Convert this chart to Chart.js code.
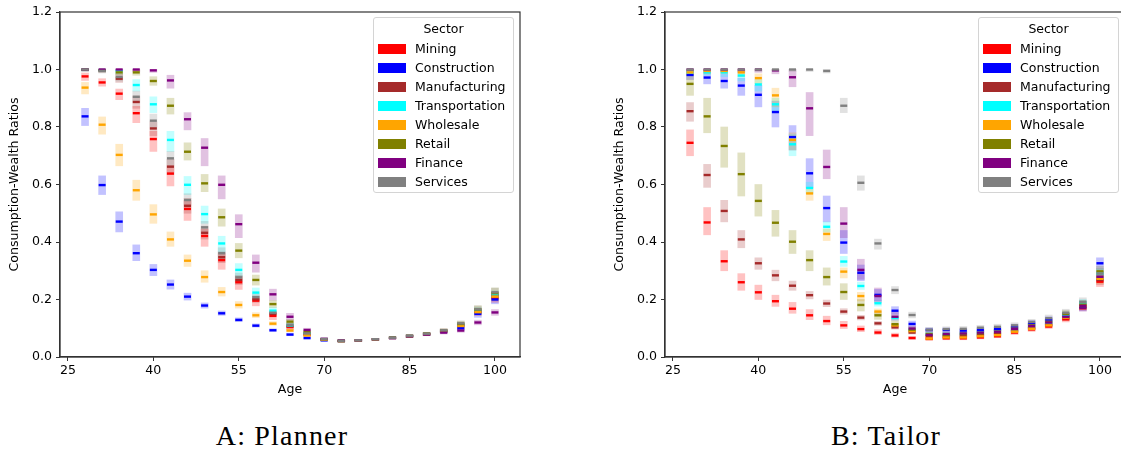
<!DOCTYPE html>
<html>
<head>
<meta charset="utf-8">
<script src="https://cdn.jsdelivr.net/npm/chart.js@4.4.1/dist/chart.umd.min.js"></script>
<style>
  html, body { margin: 0; padding: 0; background: #fff; width: 1121px; height: 452px; overflow: hidden; }
  .panel { position: absolute; top: 0; width: 530px; height: 400px; }
  .panel canvas { display: block; }
  .legend { position: absolute; top: 17px; width: 141px; height: 176px; box-sizing: border-box;
            border: 1px solid #d4d4d4; border-radius: 3px; background: rgba(255,255,255,0.85);
            font-family: 'DejaVu Sans', sans-serif; font-size: 12.5px; color: #000; }
  .legend .ttl { position: absolute; left: 0; right: 0; top: 3px; text-align: center; line-height: 16px; }
  .legend .sw { position: absolute; left: 4px; width: 28px; height: 10px; }
  .legend .lb { position: absolute; left: 41px; line-height: 16px; white-space: nowrap; }
  .caption { position: absolute; top: 422px; width: 300px; text-align: center; line-height: 28px;
             font-family: 'Liberation Serif', serif; font-size: 28px; letter-spacing: 1.2px; color: #000; }
</style>
</head>
<body>
<div class="panel" id="panelA" style="left:0px"><canvas id="chartA" width="530" height="400"></canvas></div>
<div class="panel" id="panelB" style="left:605px"><canvas id="chartB" width="530" height="400"></canvas></div>
<div class="caption" style="left:132px">A: Planner</div>
<div class="caption" style="left:736px">B: Tailor</div>
<script>
// Age grid of the simulated cohorts and axis ticks
const ages = [28, 31, 34, 37, 40, 43, 46, 49, 52, 55, 58, 61, 64, 67, 70, 73, 76, 79, 82, 85, 88, 91, 94, 97, 100];
const ageTicks = [25, 40, 55, 70, 85, 100];
const ratioTicks = [0.0, 0.2, 0.4, 0.6, 0.8, 1.0, 1.2];

const sectors = ['Mining', 'Construction', 'Manufacturing', 'Transportation', 'Wholesale', 'Retail', 'Finance', 'Services'];
const sectorColors = ['#ff0000', '#0000ff', '#a52a2a', '#00ffff', '#ffa500', '#808000', '#800080', '#808080'];

// Planner: median consumption-wealth ratio by sector (rows) and age (columns)
const plannerMedian = [
  [0.976, 0.955, 0.916, 0.848, 0.758, 0.638, 0.515, 0.421, 0.337, 0.260, 0.196, 0.143, 0.104, 0.078, 0.061, 0.056, 0.058, 0.062, 0.067, 0.073, 0.080, 0.091, 0.110, 0.158, 0.205],
  [0.837, 0.598, 0.471, 0.361, 0.303, 0.252, 0.210, 0.179, 0.152, 0.129, 0.109, 0.093, 0.078, 0.066, 0.058, 0.055, 0.057, 0.061, 0.066, 0.072, 0.079, 0.088, 0.100, 0.150, 0.200],
  [1.000, 0.997, 0.968, 0.887, 0.795, 0.662, 0.526, 0.432, 0.347, 0.268, 0.201, 0.150, 0.108, 0.080, 0.061, 0.056, 0.058, 0.062, 0.067, 0.073, 0.080, 0.091, 0.112, 0.160, 0.215],
  [1.000, 0.998, 0.995, 0.946, 0.879, 0.755, 0.599, 0.497, 0.395, 0.303, 0.224, 0.161, 0.110, 0.083, 0.062, 0.056, 0.058, 0.062, 0.067, 0.073, 0.080, 0.091, 0.113, 0.162, 0.218],
  [0.937, 0.808, 0.703, 0.580, 0.496, 0.409, 0.335, 0.278, 0.226, 0.181, 0.145, 0.116, 0.092, 0.075, 0.060, 0.055, 0.057, 0.061, 0.066, 0.072, 0.079, 0.089, 0.108, 0.156, 0.210],
  [1.000, 0.998, 0.990, 0.990, 0.960, 0.874, 0.714, 0.604, 0.486, 0.370, 0.268, 0.184, 0.123, 0.087, 0.062, 0.056, 0.058, 0.062, 0.067, 0.073, 0.081, 0.092, 0.115, 0.165, 0.222],
  [1.000, 1.000, 1.000, 1.000, 0.997, 0.962, 0.827, 0.728, 0.599, 0.462, 0.328, 0.218, 0.140, 0.094, 0.063, 0.057, 0.058, 0.062, 0.066, 0.072, 0.078, 0.085, 0.092, 0.120, 0.155],
  [1.000, 0.995, 0.974, 0.905, 0.822, 0.691, 0.546, 0.451, 0.361, 0.277, 0.208, 0.154, 0.112, 0.082, 0.062, 0.056, 0.058, 0.062, 0.067, 0.074, 0.081, 0.093, 0.117, 0.166, 0.225]
];
// Planner: lower and upper edge of each violin body
const plannerLow = [
  [0.962, 0.942, 0.895, 0.815, 0.715, 0.595, 0.475, 0.385, 0.305, 0.235, 0.178, 0.130, 0.095, 0.072, 0.057, 0.053, 0.055, 0.059, 0.064, 0.069, 0.075, 0.085, 0.100, 0.145, 0.190],
  [0.805, 0.565, 0.435, 0.335, 0.283, 0.236, 0.198, 0.170, 0.145, 0.123, 0.104, 0.089, 0.074, 0.062, 0.055, 0.052, 0.054, 0.058, 0.063, 0.068, 0.075, 0.083, 0.093, 0.138, 0.185],
  [0.995, 0.990, 0.955, 0.865, 0.770, 0.635, 0.500, 0.410, 0.328, 0.252, 0.190, 0.142, 0.102, 0.076, 0.058, 0.053, 0.055, 0.059, 0.064, 0.069, 0.076, 0.086, 0.104, 0.150, 0.200],
  [0.995, 0.992, 0.985, 0.925, 0.850, 0.715, 0.565, 0.465, 0.365, 0.280, 0.205, 0.150, 0.102, 0.078, 0.059, 0.053, 0.055, 0.059, 0.064, 0.069, 0.076, 0.086, 0.105, 0.152, 0.205],
  [0.915, 0.775, 0.665, 0.545, 0.465, 0.385, 0.315, 0.260, 0.212, 0.170, 0.137, 0.110, 0.088, 0.071, 0.057, 0.052, 0.054, 0.058, 0.063, 0.068, 0.075, 0.084, 0.100, 0.145, 0.195],
  [0.995, 0.992, 0.982, 0.980, 0.945, 0.845, 0.685, 0.575, 0.455, 0.345, 0.250, 0.172, 0.115, 0.082, 0.059, 0.053, 0.055, 0.059, 0.064, 0.069, 0.077, 0.087, 0.106, 0.152, 0.205],
  [0.995, 0.995, 0.995, 0.993, 0.990, 0.935, 0.790, 0.665, 0.550, 0.415, 0.295, 0.198, 0.128, 0.087, 0.059, 0.054, 0.055, 0.059, 0.063, 0.068, 0.074, 0.080, 0.086, 0.112, 0.145],
  [0.995, 0.988, 0.960, 0.885, 0.800, 0.665, 0.525, 0.430, 0.342, 0.262, 0.197, 0.146, 0.106, 0.078, 0.059, 0.053, 0.055, 0.059, 0.064, 0.070, 0.077, 0.088, 0.108, 0.155, 0.210]
];
const plannerHigh = [
  [0.988, 0.968, 0.932, 0.872, 0.785, 0.665, 0.545, 0.445, 0.360, 0.280, 0.212, 0.156, 0.114, 0.085, 0.065, 0.059, 0.061, 0.065, 0.070, 0.077, 0.085, 0.097, 0.120, 0.170, 0.222],
  [0.865, 0.630, 0.505, 0.390, 0.322, 0.268, 0.222, 0.188, 0.160, 0.136, 0.115, 0.098, 0.083, 0.070, 0.061, 0.058, 0.060, 0.064, 0.069, 0.076, 0.084, 0.094, 0.108, 0.162, 0.215],
  [1.000, 1.000, 0.982, 0.908, 0.818, 0.688, 0.552, 0.455, 0.366, 0.284, 0.212, 0.158, 0.115, 0.085, 0.065, 0.059, 0.061, 0.065, 0.070, 0.077, 0.084, 0.096, 0.120, 0.170, 0.228],
  [1.000, 1.000, 1.000, 0.965, 0.905, 0.785, 0.628, 0.525, 0.420, 0.325, 0.240, 0.172, 0.118, 0.088, 0.066, 0.059, 0.061, 0.065, 0.070, 0.077, 0.084, 0.096, 0.120, 0.172, 0.230],
  [0.955, 0.835, 0.740, 0.615, 0.530, 0.435, 0.355, 0.300, 0.242, 0.193, 0.154, 0.123, 0.097, 0.079, 0.063, 0.058, 0.060, 0.064, 0.069, 0.076, 0.083, 0.094, 0.115, 0.166, 0.224],
  [1.000, 1.000, 1.000, 1.000, 0.975, 0.900, 0.745, 0.635, 0.515, 0.395, 0.285, 0.197, 0.131, 0.093, 0.066, 0.059, 0.061, 0.065, 0.070, 0.077, 0.085, 0.098, 0.124, 0.178, 0.240],
  [1.000, 1.000, 1.000, 1.000, 1.000, 0.980, 0.850, 0.760, 0.630, 0.495, 0.355, 0.236, 0.152, 0.100, 0.067, 0.060, 0.061, 0.065, 0.069, 0.076, 0.082, 0.090, 0.098, 0.128, 0.165],
  [1.000, 1.000, 0.988, 0.925, 0.845, 0.715, 0.568, 0.472, 0.380, 0.292, 0.220, 0.163, 0.119, 0.087, 0.066, 0.059, 0.061, 0.065, 0.070, 0.078, 0.086, 0.099, 0.126, 0.178, 0.240]
];

// Tailor: median consumption-wealth ratio by sector and age
const tailorMedian = [
  [0.745, 0.468, 0.333, 0.260, 0.225, 0.194, 0.168, 0.145, 0.125, 0.110, 0.097, 0.085, 0.075, 0.066, 0.063, 0.065, 0.065, 0.068, 0.072, 0.085, 0.096, 0.106, 0.131, 0.170, 0.262],
  [0.981, 0.972, 0.960, 0.944, 0.912, 0.852, 0.765, 0.639, 0.518, 0.398, 0.293, 0.216, 0.161, 0.115, 0.094, 0.094, 0.092, 0.094, 0.097, 0.106, 0.119, 0.130, 0.143, 0.173, 0.326],
  [0.855, 0.633, 0.508, 0.409, 0.326, 0.284, 0.248, 0.215, 0.186, 0.158, 0.137, 0.117, 0.103, 0.085, 0.072, 0.072, 0.073, 0.076, 0.080, 0.090, 0.100, 0.112, 0.136, 0.176, 0.268],
  [0.990, 0.990, 0.990, 0.979, 0.948, 0.879, 0.740, 0.588, 0.453, 0.332, 0.247, 0.187, 0.136, 0.095, 0.080, 0.080, 0.082, 0.085, 0.089, 0.097, 0.108, 0.120, 0.147, 0.189, 0.290],
  [0.990, 0.995, 0.995, 0.990, 0.970, 0.910, 0.755, 0.569, 0.428, 0.297, 0.212, 0.158, 0.110, 0.090, 0.064, 0.068, 0.068, 0.072, 0.076, 0.088, 0.098, 0.110, 0.137, 0.178, 0.272],
  [0.950, 0.837, 0.734, 0.636, 0.543, 0.467, 0.401, 0.337, 0.278, 0.226, 0.181, 0.145, 0.114, 0.095, 0.080, 0.077, 0.080, 0.083, 0.088, 0.098, 0.110, 0.122, 0.150, 0.182, 0.298],
  [1.000, 1.000, 1.000, 1.000, 1.000, 0.997, 0.973, 0.865, 0.661, 0.464, 0.303, 0.212, 0.140, 0.099, 0.077, 0.080, 0.082, 0.085, 0.088, 0.098, 0.108, 0.120, 0.140, 0.178, 0.279],
  [1.000, 1.000, 1.000, 1.000, 1.000, 1.000, 1.000, 1.000, 0.995, 0.874, 0.606, 0.395, 0.233, 0.146, 0.095, 0.097, 0.098, 0.102, 0.105, 0.110, 0.122, 0.135, 0.154, 0.192, 0.290]
];
const tailorLow = [
  [0.700, 0.425, 0.300, 0.232, 0.200, 0.176, 0.152, 0.130, 0.112, 0.099, 0.088, 0.078, 0.069, 0.061, 0.058, 0.060, 0.060, 0.063, 0.067, 0.078, 0.089, 0.099, 0.122, 0.160, 0.245],
  [0.965, 0.950, 0.935, 0.910, 0.870, 0.800, 0.720, 0.590, 0.470, 0.360, 0.265, 0.195, 0.148, 0.105, 0.087, 0.087, 0.086, 0.088, 0.091, 0.099, 0.111, 0.121, 0.134, 0.160, 0.305],
  [0.820, 0.590, 0.470, 0.380, 0.305, 0.265, 0.232, 0.202, 0.175, 0.149, 0.129, 0.110, 0.097, 0.080, 0.068, 0.068, 0.069, 0.072, 0.076, 0.085, 0.095, 0.106, 0.128, 0.166, 0.252],
  [0.980, 0.980, 0.975, 0.960, 0.925, 0.850, 0.700, 0.568, 0.435, 0.315, 0.235, 0.177, 0.128, 0.089, 0.075, 0.075, 0.077, 0.080, 0.084, 0.091, 0.101, 0.113, 0.139, 0.178, 0.274],
  [0.980, 0.985, 0.985, 0.975, 0.950, 0.870, 0.720, 0.545, 0.405, 0.275, 0.195, 0.148, 0.103, 0.084, 0.059, 0.063, 0.063, 0.067, 0.071, 0.082, 0.091, 0.103, 0.128, 0.166, 0.256],
  [0.910, 0.780, 0.660, 0.560, 0.490, 0.420, 0.360, 0.300, 0.250, 0.200, 0.160, 0.131, 0.104, 0.087, 0.073, 0.070, 0.073, 0.076, 0.081, 0.090, 0.101, 0.113, 0.139, 0.170, 0.282],
  [0.990, 0.990, 0.990, 0.990, 0.990, 0.985, 0.940, 0.770, 0.620, 0.415, 0.270, 0.190, 0.128, 0.090, 0.071, 0.073, 0.075, 0.078, 0.081, 0.090, 0.099, 0.110, 0.129, 0.164, 0.262],
  [0.993, 0.993, 0.993, 0.993, 0.993, 0.993, 0.993, 0.993, 0.988, 0.850, 0.580, 0.375, 0.220, 0.136, 0.088, 0.090, 0.091, 0.094, 0.097, 0.102, 0.113, 0.125, 0.143, 0.178, 0.272]
];
const tailorHigh = [
  [0.790, 0.520, 0.370, 0.290, 0.250, 0.215, 0.190, 0.165, 0.142, 0.124, 0.108, 0.095, 0.083, 0.072, 0.068, 0.070, 0.071, 0.074, 0.078, 0.092, 0.103, 0.114, 0.141, 0.182, 0.280],
  [0.995, 0.990, 0.985, 0.970, 0.945, 0.890, 0.805, 0.690, 0.560, 0.440, 0.320, 0.235, 0.175, 0.125, 0.101, 0.101, 0.099, 0.101, 0.104, 0.114, 0.127, 0.140, 0.153, 0.186, 0.345],
  [0.885, 0.670, 0.545, 0.440, 0.345, 0.302, 0.264, 0.228, 0.198, 0.168, 0.145, 0.124, 0.109, 0.090, 0.076, 0.076, 0.077, 0.080, 0.084, 0.095, 0.105, 0.118, 0.144, 0.186, 0.284],
  [1.000, 1.000, 1.000, 0.992, 0.965, 0.900, 0.775, 0.608, 0.470, 0.350, 0.260, 0.197, 0.143, 0.101, 0.085, 0.085, 0.087, 0.090, 0.094, 0.103, 0.115, 0.127, 0.156, 0.200, 0.306],
  [1.000, 1.000, 1.000, 1.000, 0.985, 0.935, 0.780, 0.590, 0.445, 0.310, 0.225, 0.167, 0.117, 0.096, 0.069, 0.073, 0.073, 0.077, 0.081, 0.094, 0.105, 0.117, 0.146, 0.190, 0.288],
  [0.985, 0.900, 0.800, 0.710, 0.600, 0.510, 0.440, 0.370, 0.310, 0.255, 0.200, 0.160, 0.126, 0.104, 0.088, 0.085, 0.088, 0.091, 0.096, 0.107, 0.119, 0.132, 0.162, 0.196, 0.316],
  [1.000, 1.000, 1.000, 1.000, 1.000, 1.000, 1.000, 0.920, 0.720, 0.520, 0.340, 0.240, 0.155, 0.108, 0.084, 0.087, 0.089, 0.092, 0.095, 0.106, 0.117, 0.130, 0.152, 0.194, 0.298],
  [1.000, 1.000, 1.000, 1.000, 1.000, 1.000, 1.000, 1.000, 1.000, 0.900, 0.630, 0.410, 0.245, 0.156, 0.103, 0.105, 0.106, 0.110, 0.114, 0.119, 0.131, 0.146, 0.166, 0.206, 0.308]
];

const FONT = "'DejaVu Sans', sans-serif";
const AXIS = '#333333';

function withAlpha(hex, a) {
  const n = parseInt(hex.slice(1), 16);
  return `rgba(${(n >> 16) & 255}, ${(n >> 8) & 255}, ${n & 255}, ${a})`;
}

// One translucent floating bar per violin body, plus a dash at the median
function buildDatasets(median, low, high) {
  const out = [];
  sectors.forEach((name, s) => {
    const color = sectorColors[s];
    out.push({
      type: 'bar', label: name, grouped: false, order: 40 - s,
      data: ages.map((a, i) => ({ x: a, y: [low[s][i], high[s][i]] })),
      backgroundColor: withAlpha(color, 0.24), borderWidth: 0, barThickness: 7
    });
    out.push({
      type: 'line', label: name + ' median', order: 20 - s, showLine: false,
      data: ages.map((a, i) => ({ x: a, y: median[s][i] })),
      pointStyle: 'line', pointRadius: 3.5, pointHoverRadius: 3.5,
      pointBorderWidth: 2.4, pointBorderColor: color, pointBackgroundColor: color,
      borderColor: color
    });
  });
  return out;
}

// Closed box around the plotting area
const frame = {
  id: 'frame',
  afterDatasetsDraw(chart) {
    const { ctx, chartArea: { left, top, right, bottom } } = chart;
    ctx.save();
    ctx.strokeStyle = AXIS;
    ctx.lineWidth = 1.2;
    ctx.strokeRect(left, top, right - left, bottom - top);
    ctx.restore();
  }
};

function makeChart(canvasId, median, low, high) {
  return new Chart(document.getElementById(canvasId), {
    type: 'bar',
    data: { datasets: buildDatasets(median, low, high) },
    plugins: [frame],
    options: {
      responsive: false, animation: false, devicePixelRatio: 1,
      layout: { padding: { left: 0, right: 10, top: 12, bottom: 0 } },
      plugins: { legend: { display: false }, tooltip: { enabled: false } },
      events: [],
      scales: {
        x: {
          type: 'linear', min: 23.6, max: 104.4, offset: false,
          afterBuildTicks: sc => { sc.ticks = ageTicks.map(v => ({ value: v })); },
          afterFit: sc => { sc.height = 43; },
          ticks: { color: '#000', padding: 2, font: { family: FONT, size: 12.6 }, maxRotation: 0 },
          grid: { display: true, drawOnChartArea: false, drawTicks: true, tickLength: 4, color: AXIS, offset: false },
          border: { display: true, color: AXIS, width: 1.2 },
          title: { display: true, text: 'Age', color: '#000', font: { family: FONT, size: 12.6 }, padding: { top: 0, bottom: 3 } }
        },
        y: {
          type: 'linear', min: 0, max: 1.2,
          afterBuildTicks: sc => { sc.ticks = ratioTicks.map(v => ({ value: v })); },
          afterFit: sc => { sc.width = 60; },
          ticks: { color: '#000', padding: 4, font: { family: FONT, size: 12.6 }, callback: v => v.toFixed(1) },
          grid: { display: true, drawOnChartArea: false, drawTicks: true, tickLength: 4, color: AXIS },
          border: { display: true, color: AXIS, width: 1.2 },
          title: { display: true, text: 'Consumption-Wealth Ratios', color: '#000', font: { family: FONT, size: 12.6 }, padding: { top: 7, bottom: 0 } }
        }
      }
    }
  });
}

// Sector legend placed in the upper right of each plotting area
function addLegend(panelId, chart) {
  const area = chart.chartArea;
  const box = document.createElement('div');
  box.className = 'legend';
  box.style.left = (area.right - 147) + 'px';
  const ttl = document.createElement('div');
  ttl.className = 'ttl';
  ttl.textContent = 'Sector';
  box.appendChild(ttl);
  sectors.forEach((name, s) => {
    const cy = 30.5 + 19.05 * s;
    const sw = document.createElement('div');
    sw.className = 'sw';
    sw.style.top = (cy - 5) + 'px';
    sw.style.background = sectorColors[s];
    const lb = document.createElement('div');
    lb.className = 'lb';
    lb.style.top = (cy - 8) + 'px';
    lb.textContent = name;
    box.appendChild(sw);
    box.appendChild(lb);
  });
  document.getElementById(panelId).appendChild(box);
}

const chartA = makeChart('chartA', plannerMedian, plannerLow, plannerHigh);
const chartB = makeChart('chartB', tailorMedian, tailorLow, tailorHigh);
addLegend('panelA', chartA);
addLegend('panelB', chartB);
</script>
</body>
</html>
